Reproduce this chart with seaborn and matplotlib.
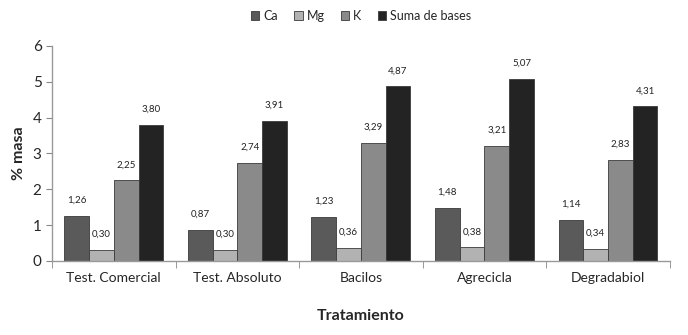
import matplotlib
matplotlib.use("Agg")
import matplotlib.pyplot as plt
import seaborn as sns
import pandas as pd

categories = ["Test. Comercial", "Test. Absoluto", "Bacilos", "Agrecicla", "Degradabiol"]
series = ["Ca", "Mg", "K", "Suma de bases"]
ca = [1.26, 0.87, 1.23, 1.48, 1.14]
mg = [0.30, 0.30, 0.36, 0.38, 0.34]
k = [2.25, 2.74, 3.29, 3.21, 2.83]
suma = [3.80, 3.91, 4.87, 5.07, 4.31]

rows = []
for s, vals in zip(series, [ca, mg, k, suma]):
    for c, v in zip(categories, vals):
        rows.append({"Tratamiento": c, "serie": s, "valor": v})
df = pd.DataFrame(rows)

sns.set_style("white")
plt.rcParams["font.family"] = ["Lato", "DejaVu Sans"]

colors = ["#5a5a5a", "#b2b2b2", "#8a8a8a", "#232323"]

fig = plt.figure(figsize=(6.88, 3.35), dpi=100)
ax = fig.add_axes([0.0756, 0.221, 0.898, 0.642])
sns.barplot(data=df, x="Tratamiento", y="valor", hue="serie", order=categories,
            hue_order=series, palette=colors, width=0.8, edgecolor="#3a3a3a",
            linewidth=0.6, ax=ax, errorbar=None)

for cont in ax.containers:
    ax.bar_label(cont, labels=[f"{v:.2f}".replace(".", ",") for v in cont.datavalues],
                 padding=8, fontsize=7, color="#222222")

ax.set_ylim(0, 6)
ax.set_xlim(-0.5, 4.5)
ax.set_yticks(range(7))
ax.tick_params(axis="y", labelsize=11, length=4, color="#888888", direction="out", left=True)
ax.tick_params(axis="x", which="major", length=0, labelsize=10, pad=8)
ax.set_xticks([i - 0.5 for i in range(6)], minor=True)
ax.tick_params(axis="x", which="minor", length=5, color="#888888", bottom=True, direction="out")
for side in ["top", "right"]:
    ax.spines[side].set_visible(False)
for side in ["left", "bottom"]:
    ax.spines[side].set_color("#999999")
    ax.spines[side].set_linewidth(1)

ax.set_ylabel("% masa", fontsize=11.5, fontweight="bold", labelpad=5)
ax.set_xlabel("Tratamiento", fontsize=11.5, fontweight="bold", labelpad=18)

handles, labels = ax.get_legend_handles_labels()
ax.legend(handles, labels, loc="lower center", bbox_to_anchor=(0.5, 1.06), ncol=4,
          frameon=False, fontsize=9, handlelength=0.7, handleheight=0.7,
          handletextpad=0.3, columnspacing=1.3)

fig.savefig("out.png", dpi=100)
